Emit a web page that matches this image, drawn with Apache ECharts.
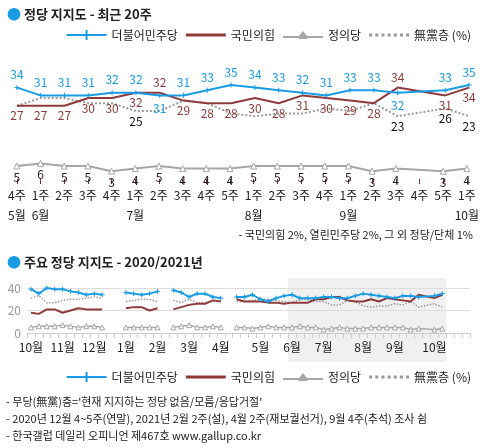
<!DOCTYPE html>
<html><head><meta charset="utf-8">
<script src="https://cdn.jsdelivr.net/npm/echarts@6/dist/echarts.min.js"></script>
<style>html,body{margin:0;padding:0;background:#fff}#c{width:482px;height:448px}</style>
</head><body><div id="c"></div>
<script>
// ---- Top chart (last 20 weeks) ----
const weeks = ['4주','1주','2주','3주','4주','1주','2주','3주','4주','5주','1주','2주','3주','4주','1주','2주','3주','4주','5주','1주'];
const monthsUnder = ['5월','6월','','','','7월','','','','','8월','','','','9월','','','','','10월'];
const minjoo = [34,31,31,31,32,32,31,31,33,35,34,33,32,31,33,33,32,null,33,35];
const ppp    = [27,27,27,30,30,32,32,29,28,28,30,28,31,30,29,28,34,null,31,34];
const justice= [5,6,5,5,3,4,5,4,4,4,5,5,5,5,5,3,4,null,3,4];
const nonPart= [27,30,30,28,28,25,25,29,28,24,23,24,24,26,25,28,23,null,26,23];
const nonPartLabeled = [5,16,18,19];

// ---- Bottom chart (2020/2021 weekly) ----
const bMonthLabels = {0:'10월',4:'11월',8:'12월',12:'1월',16:'2월',20:'3월',24:'4월',29:'5월',33:'6월',37:'7월',42:'8월',46:'9월',51:'10월'};
const bCount = 56;
const bMinjooEarly  = [39,35,40,39,39,37,36,34,35,34, null,null, 36,35,34,35,37, null, 38,36,32,35,35,32,31, null, 32,32,34,30,28,31,33];
const bPppEarly     = [18,17,21,21,18,20,22,21,21,21, null,null, 22,23,23,20,22, null, 21,23,25,26,26,29,28, null, 30,28,28,28,27,27,26];
const bJusticeEarly = [5,6,6,6,7,6,5,6,6,5, null,null, 5,5,5,5,5, null, 5,6,7,5,5,6,5, null, 5,5,4,5,6,5,5];
const bNonPartEarly = [31,33,27,27,29,30,30,31,32,31, null,null, 28,29,30,30,28, null, 29,27,30,27,27,28,29, null, 28,28,29,30,30,29,28];
const shadeFrom = 33, shadeTo = 52;

const BLUE='#1a9be6', RED='#8e3a3a', GRAY='#a6a6a6', DOT='#9a9a9a';
const FONT='"Noto Sans CJK KR", sans-serif';

function full(early, top){
  const arr = early.concat(top);
  const out = [];
  arr.forEach((v,i)=>{
    if (v===null && i>=early.length) return;
    out.push([i, v]);
  });
  return out;
}
const bCats = Array.from({length:bCount},(_,i)=>String(i));

const plusPath = 'path://M0,5L10,5M5,0L5,10';
const lineIcon = 'path://M0,0H40V3H0Z';
const dotIcon = 'path://M0,0h3v3h-3zM6,0h3v3h-3zM12,0h3v3h-3zM18,0h3v3h-3zM24,0h3v3h-3zM30,0h3v3h-3zM36,0h3v3h-3z';
const plusIcon = 'path://M0,4H40V6H0ZM19,0H21V10H19Z';
const triIcon = 'path://M0,6H16L20,1L24,6H40V8H24L25,9H15L16,8H0Z';

const chart = echarts.init(document.getElementById('c'));

function legendData(suffix){
  return [
    {name:'더불어민주당'+suffix,icon:plusIcon,itemStyle:{color:BLUE,borderWidth:0}},
    {name:'국민의힘'+suffix,icon:lineIcon,itemStyle:{color:RED,borderWidth:0}},
    {name:'정의당'+suffix,icon:triIcon,itemStyle:{color:GRAY,borderWidth:0}},
    {name:'無黨층 (%)'+suffix,icon:dotIcon,itemStyle:{color:DOT,borderWidth:0}}
  ];
}

const option = {
  animation:false,
  textStyle:{fontFamily:FONT},
  title:[
    {text:'{d|●} 정당 지지도 - 최근 20주',left:2,top:2,textStyle:{fontSize:13,fontWeight:'bold',color:'#222',fontFamily:FONT,rich:{d:{color:BLUE,fontSize:14}}}},
    {text:'{d|●} 주요 정당 지지도 - 2020/2021년',left:2,top:250,textStyle:{fontSize:13,fontWeight:'bold',color:'#222',fontFamily:FONT,rich:{d:{color:BLUE,fontSize:14}}}}
  ],
  legend:[
    {right:6,top:24,itemWidth:40,itemHeight:10,itemGap:8,textStyle:{fontSize:12,color:'#222'},data:legendData('')},
    {right:6,top:366,itemWidth:40,itemHeight:10,itemGap:8,textStyle:{fontSize:12,color:'#222'},
     data:legendData(' '),formatter:n=>n.trim()}
  ],
  grid:[
    {left:5,right:1,top:72,height:65},
    {left:5,right:1,top:153,height:26},
    {left:27,right:12,top:288,height:45}
  ],
  xAxis:[
    {gridIndex:0,type:'category',data:weeks,show:false},
    {gridIndex:1,type:'category',data:weeks,axisLine:{show:false},
     axisTick:{show:true,alignWithLabel:true,length:5,lineStyle:{color:'#7a2a4a'}},
     axisLabel:{margin:6,interval:0,formatter:(v,i)=>`{w|${v}}\n{m|${monthsUnder[i]}}`,
       rich:{w:{fontSize:12,color:'#222',lineHeight:20},m:{fontSize:12,color:'#222',lineHeight:20}}}},
    {gridIndex:2,type:'category',data:bCats,
     axisLine:{lineStyle:{color:'#ccc'}},axisTick:{show:true,interval:0,length:5,lineStyle:{color:'#ccc'}},
     axisLabel:{interval:0,margin:8,fontSize:12,color:'#222',formatter:(v,i)=>bMonthLabels[i]||''}}
  ],
  yAxis:[
    {gridIndex:0,type:'value',min:15,max:40,show:false},
    {gridIndex:1,type:'value',min:0,max:10,show:false},
    {gridIndex:2,type:'value',min:0,max:40,interval:20,axisLine:{show:false},axisTick:{show:false},
     axisLabel:{fontSize:12,color:'#999',margin:6},splitLine:{lineStyle:{color:'#ddd'}}}
  ],
  series:[
    {name:'無黨층 (%)',type:'line',xAxisIndex:0,yAxisIndex:0,connectNulls:true,symbol:'circle',symbolSize:0.1,showSymbol:true,
     lineStyle:{color:DOT,width:2,type:'dotted'},itemStyle:{color:DOT},labelLayout:{hideOverlap:false},
     data:nonPart.map((v,i)=>({value:v,label:{show:nonPartLabeled.includes(i),position:'bottom',color:'#111',fontSize:12,distance:4}}))},
    {name:'국민의힘',type:'line',xAxisIndex:0,yAxisIndex:0,connectNulls:true,symbol:'circle',symbolSize:0.1,showSymbol:true,
     lineStyle:{color:RED,width:2},itemStyle:{color:RED},
     data:ppp.map((v,i)=>({value:v,label:{show:v!==null,position:(v>minjoo[i])?'top':'bottom',color:RED,fontSize:12,distance:4}}))},
    {name:'더불어민주당',type:'line',xAxisIndex:0,yAxisIndex:0,connectNulls:true,symbol:plusPath,symbolSize:5,
     lineStyle:{color:BLUE,width:2},itemStyle:{color:BLUE,borderColor:BLUE,borderWidth:1},
     data:minjoo.map((v,i)=>({value:v,label:{show:v!==null,position:(v>=ppp[i])?'top':'bottom',color:BLUE,fontSize:12,distance:4}}))},
    {name:'정의당',type:'line',xAxisIndex:1,yAxisIndex:1,connectNulls:true,symbol:'triangle',symbolSize:6,
     lineStyle:{color:GRAY,width:2},itemStyle:{color:'#fff',borderColor:GRAY,borderWidth:1},
     label:{show:true,position:'bottom',color:'#222',fontSize:12,distance:2},data:justice},

    {name:'無黨층 (%) ',type:'line',xAxisIndex:2,yAxisIndex:2,symbol:'none',
     lineStyle:{color:DOT,width:1.5,type:'dotted'},itemStyle:{color:DOT},data:full(bNonPartEarly,nonPart)},
    {name:'국민의힘 ',type:'line',xAxisIndex:2,yAxisIndex:2,symbol:'none',
     lineStyle:{color:RED,width:2},itemStyle:{color:RED},data:full(bPppEarly,ppp)},
    {name:'더불어민주당 ',type:'line',xAxisIndex:2,yAxisIndex:2,symbol:plusPath,symbolSize:5,
     lineStyle:{color:BLUE,width:2},itemStyle:{color:BLUE,borderColor:BLUE,borderWidth:1},data:full(bMinjooEarly,minjoo)},
    {name:'정의당 ',type:'line',xAxisIndex:2,yAxisIndex:2,symbol:'triangle',symbolSize:5,
     lineStyle:{color:GRAY,width:1.5},itemStyle:{color:'#fff',borderColor:GRAY,borderWidth:1},data:full(bJusticeEarly,justice)}
  ],
  graphic:[
    {type:'text',right:9,top:229,style:{text:'- 국민의힘 2%, 열린민주당 2%, 그 외 정당/단체 1%',fontSize:11,fill:'#222',fontFamily:FONT}},
    {type:'text',left:6,top:396,style:{text:"- 무당(無黨)층='현재 지지하는 정당 없음/모름/응답거절'",fontSize:11,fill:'#222',fontFamily:FONT}},
    {type:'text',left:6,top:413,style:{text:'- 2020년 12월 4~5주(연말), 2021년 2월 2주(설), 4월 2주(재보궐선거), 9월 4주(추석) 조사 쉼',fontSize:11,fill:'#222',fontFamily:FONT}},
    {type:'text',left:6,top:430,style:{text:'- 한국갤럽 데일리 오피니언 제467호 www.gallup.co.kr',fontSize:11,fill:'#222',fontFamily:FONT}}
  ]
};
chart.setOption(option);
const x0 = chart.convertToPixel({xAxisIndex:2}, String(shadeFrom));
const x1 = chart.convertToPixel({xAxisIndex:2}, String(shadeTo));
const half = (chart.convertToPixel({xAxisIndex:2},'1')-chart.convertToPixel({xAxisIndex:2},'0'))/2;
chart.setOption({graphic:option.graphic.concat([
  {type:'rect',z:-1,shape:{x:x0-half,y:278,width:x1-x0+2*half,height:84},style:{fill:'#f0f0f0'}}
])});
</script></body></html>
